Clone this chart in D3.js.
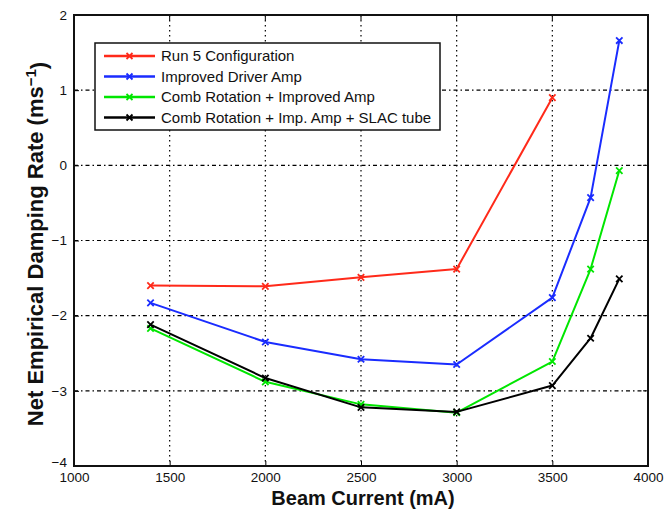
<!DOCTYPE html>
<html>
<head>
<meta charset="utf-8">
<script src="https://cdn.jsdelivr.net/npm/d3@7"></script>
<style>
  html, body { margin: 0; padding: 0; background: #fff; }
  svg { display: block; }
  text { font-family: "Liberation Sans", Arial, sans-serif; }
</style>
</head>
<body>
<svg id="chart" width="665" height="510"></svg>
<script>
// Beam current (mA) sample points
const currentShort = [1400, 2000, 2500, 3000, 3500];
const currentLong = [1400, 2000, 2500, 3000, 3500, 3700, 3850];

// Net empirical damping rate (ms^-1) per configuration
const run5 = [-1.60, -1.61, -1.49, -1.38, 0.90];
const improvedDriver = [-1.83, -2.35, -2.58, -2.65, -1.76, -0.43, 1.66];
const combRotation = [-2.17, -2.88, -3.18, -3.29, -2.61, -1.38, -0.07];
const combSlac = [-2.12, -2.83, -3.22, -3.28, -2.93, -2.30, -1.51];

const seriesNames = [
  "Run 5 Configuration",
  "Improved Driver Amp",
  "Comb Rotation + Improved Amp",
  "Comb Rotation + Imp. Amp + SLAC tube"
];
const seriesColors = ["#ff2a1a", "#1a2cff", "#00e600", "#000000"];

const xTicks = [1000, 1500, 2000, 2500, 3000, 3500, 4000];
const yTicks = [-4, -3, -2, -1, 0, 1, 2];

const series = [
  { name: seriesNames[0], color: seriesColors[0], xs: currentShort, ys: run5 },
  { name: seriesNames[1], color: seriesColors[1], xs: currentLong, ys: improvedDriver },
  { name: seriesNames[2], color: seriesColors[2], xs: currentLong, ys: combRotation },
  { name: seriesNames[3], color: seriesColors[3], xs: currentLong, ys: combSlac }
];

const svg = d3.select("#chart");
const plot = { left: 74, right: 648, top: 15, bottom: 466 };

const x = d3.scaleLinear().domain([1000, 4000]).range([plot.left, plot.right]);
const y = d3.scaleLinear().domain([-4, 2]).range([plot.bottom, plot.top]);

// dash-dot grid
const grid = svg.append("g");
xTicks.slice(1, -1).forEach(t => {
  grid.append("line")
    .attr("x1", x(t)).attr("x2", x(t)).attr("y1", plot.top).attr("y2", plot.bottom)
    .attr("stroke", "#000").attr("stroke-width", 1.2)
    .attr("stroke-dasharray", "1.5,3.5");
});
yTicks.slice(1, -1).forEach(t => {
  grid.append("line")
    .attr("x1", plot.left).attr("x2", plot.right).attr("y1", y(t)).attr("y2", y(t))
    .attr("stroke", "#000").attr("stroke-width", 1.2)
    .attr("stroke-dasharray", "4,3,1.5,3");
});

// axes with inward ticks
const xAxis = d3.axisBottom(x).tickValues(xTicks).tickSizeInner(-5).tickSizeOuter(0).tickPadding(6)
  .tickFormat(d3.format("d"));
const yAxis = d3.axisLeft(y).tickValues(yTicks).tickSizeInner(-5).tickSizeOuter(0).tickPadding(7)
  .tickFormat(d => d < 0 ? "\u2212" + Math.abs(d) : d);

const gx = svg.append("g").attr("transform", `translate(0,${plot.bottom})`).call(xAxis);
const gy = svg.append("g").attr("transform", `translate(${plot.left},0)`).call(yAxis);
[gx, gy].forEach(g => {
  g.select(".domain").remove();
  g.selectAll(".tick line").attr("stroke", "#000").attr("stroke-width", 1);
  g.selectAll(".tick text").attr("fill", "#111").style("font-size", "13.5px")
    .style("font-family", "'Liberation Sans', Arial, sans-serif");
});
// lowest y label sits a little higher so it clears the first x label
gy.selectAll(".tick text").filter(d => d === -4).attr("dy", "0em");
// top and right tick marks
xTicks.forEach(t => {
  svg.append("line").attr("x1", x(t)).attr("x2", x(t)).attr("y1", plot.top).attr("y2", plot.top + 5)
    .attr("stroke", "#000");
});
yTicks.forEach(t => {
  svg.append("line").attr("x1", plot.right).attr("x2", plot.right - 5).attr("y1", y(t)).attr("y2", y(t))
    .attr("stroke", "#000");
});

// plot frame
svg.append("rect")
  .attr("x", plot.left).attr("y", plot.top)
  .attr("width", plot.right - plot.left).attr("height", plot.bottom - plot.top)
  .attr("fill", "none").attr("stroke", "#111").attr("stroke-width", 2);

// data lines with x markers
const line = d3.line().x(d => x(d[0])).y(d => y(d[1]));
const drawX = (g, cx, cy, s, color) => {
  g.append("path")
    .attr("d", `M${cx - s},${cy - s}L${cx + s},${cy + s}M${cx - s},${cy + s}L${cx + s},${cy - s}`)
    .attr("stroke", color).attr("stroke-width", 1.8).attr("fill", "none");
};
series.forEach(s => {
  const pts = s.xs.map((v, i) => [v, s.ys[i]]);
  const g = svg.append("g");
  g.append("path").datum(pts).attr("d", line)
    .attr("fill", "none").attr("stroke", s.color).attr("stroke-width", 2)
    .attr("stroke-linejoin", "round");
  pts.forEach(p => drawX(g, x(p[0]), y(p[1]), 3.2, s.color));
});

// legend
const lg = svg.append("g");
lg.append("rect").attr("x", 95).attr("y", 43).attr("width", 345).attr("height", 87)
  .attr("fill", "#fff").attr("stroke", "#111").attr("stroke-width", 1.5);
series.forEach((s, i) => {
  const ly = 56 + i * 20.5;
  lg.append("line").attr("x1", 104).attr("x2", 155).attr("y1", ly).attr("y2", ly)
    .attr("stroke", s.color).attr("stroke-width", 2.5);
  drawX(lg, 129.5, ly, 3, s.color);
  lg.append("text").attr("x", 161).attr("y", ly).attr("dy", "0.35em")
    .style("font-size", "15px").attr("fill", "#111").text(s.name);
});

// axis titles
svg.append("text").attr("x", 363).attr("y", 505)
  .attr("text-anchor", "middle").style("font-size", "20px").style("font-weight", "bold")
  .attr("fill", "#111").text("Beam Current (mA)");

const yl = svg.append("text")
  .attr("transform", "translate(43,244) rotate(-90)")
  .attr("text-anchor", "middle").style("font-size", "22px").style("font-weight", "bold")
  .attr("fill", "#111");
yl.append("tspan").text("Net Empirical Damping Rate (ms");
yl.append("tspan").attr("dy", "-0.45em").style("font-size", "15px").text("\u22121");
yl.append("tspan").attr("dy", "0.45em").text(")");
</script>
</body>
</html>
